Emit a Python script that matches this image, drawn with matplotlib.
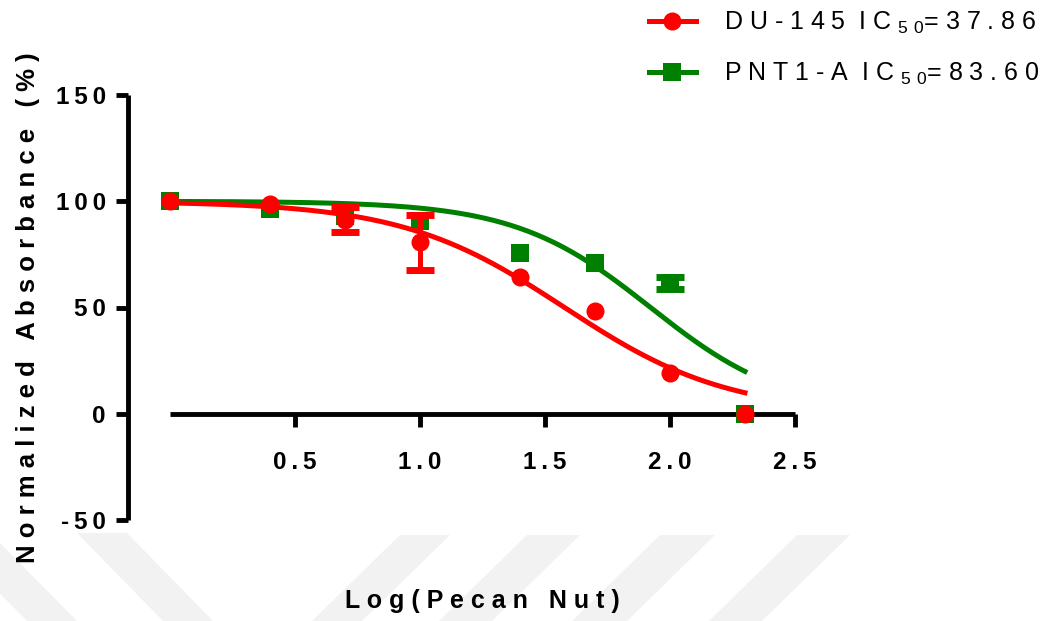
import numpy as np
import matplotlib.pyplot as plt
from matplotlib.lines import Line2D
from matplotlib.patches import Polygon

plt.rcParams['font.family'] = ['Liberation Sans', 'DejaVu Sans']
plt.rcParams['mathtext.fontset'] = 'custom'
plt.rcParams['mathtext.rm'] = 'Liberation Sans'

# log concentration of pecan nut extract
log_conc = [0.0, 0.4, 0.7, 1.0, 1.4, 1.7, 2.0, 2.3]

# DU-145 (mean, SD)
du145_mean = [100.0, 98.5, 91.3, 80.6, 64.5, 48.5, 19.0, 0.0]
du145_sd = [0.0, 0.0, 5.9, 12.9, 0.0, 0.0, 0.0, 0.0]
du145_ic50 = 37.86
du145_hill = 1.33

# PNT1-A (mean, SD)
pnt1a_mean = [100.0, 96.5, 93.2, 90.8, 75.7, 71.0, 61.6, 0.0]
pnt1a_sd = [0.0, 0.0, 0.0, 0.0, 0.0, 0.0, 2.8, 0.0]
pnt1a_ic50 = 83.60
pnt1a_hill = 1.60

y_ticks = [-50, 0, 50, 100, 150]
x_ticks = [0.5, 1.0, 1.5, 2.0, 2.5]


def spaced(s):
    return ' '.join(s)


def thin(s):
    return '\u2009'.join(s)


def dose_response(x, ic50, hill, top=100.0, bottom=0.0):
    return bottom + (top - bottom) / (1 + 10 ** ((x - np.log10(ic50)) * hill))


fig = plt.figure(figsize=(10.49, 6.21), dpi=100)

# faint striped background mark along the bottom edge
W, H = 1049.0, 621.0
stripes = [
    [(-60, 533), (-10, 533), (77, 621), (27, 621)],
    [(77, 533), (127, 533), (213, 621), (163, 621)],
    [(400, 535), (450, 535), (362, 621), (312, 621)],
    [(527, 535), (580, 535), (492, 621), (439, 621)],
    [(660, 535), (715, 535), (627, 621), (572, 621)],
    [(797, 535), (850, 535), (762, 621), (709, 621)],
]
for st in stripes:
    pts = [(px / W, 1 - py / H) for px, py in st]
    fig.patches.append(Polygon(pts, closed=True, transform=fig.transFigure,
                               facecolor='#f2f2f2', edgecolor='none',
                               zorder=-5))

ax = fig.add_axes([128 / W, 101 / H, 667 / W, 425 / H])
ax.set_zorder(2)
ax.patch.set_alpha(0)

xs = np.linspace(0, 2.3, 200)
x = np.array(log_conc)

series = [
    ('green', 's', pnt1a_mean, pnt1a_sd, pnt1a_ic50, pnt1a_hill, 13.5),
    ('red', 'o', du145_mean, du145_sd, du145_ic50, du145_hill, 13),
]
z = 3
for color, marker, mean, sd, ic50, hill, ms in series:
    mean = np.array(mean)
    sd = np.array(sd)
    ax.plot(xs, dose_response(xs, ic50, hill), color=color, lw=3.6,
            zorder=z, clip_on=False)
    has_err = sd > 0
    if has_err.any():
        ax.errorbar(x[has_err], mean[has_err], yerr=sd[has_err], fmt='none',
                    ecolor=color, elinewidth=3.6, capsize=10, capthick=5,
                    zorder=z + 1, clip_on=False)
    ax.plot(x, mean, linestyle='none', marker=marker, ms=ms, color=color,
            markeredgewidth=0, zorder=z + 2, clip_on=False)
    z += 3

ax.set_xlim(-0.168, 2.5)
ax.set_ylim(-50, 150)

for side in ['top', 'right']:
    ax.spines[side].set_visible(False)
ax.spines['bottom'].set_position(('data', 0))
ax.spines['bottom'].set_bounds(0, 2.5)
ax.spines['left'].set_bounds(-50, 150)
for side in ['bottom', 'left']:
    ax.spines[side].set_linewidth(3.5)
    ax.spines[side].set_capstyle('butt')

ax.set_yticks(y_ticks)
ax.set_yticklabels([thin(str(v)) for v in y_ticks])
ax.set_xticks(x_ticks)
ax.set_xticklabels([thin('%.1f' % v) for v in x_ticks])
ax.tick_params(axis='both', width=3.5, length=9, direction='out',
               labelsize=17.5)
ax.tick_params(axis='y', pad=7)
ax.tick_params(axis='x', pad=18)
for lab in ax.get_xticklabels() + ax.get_yticklabels():
    lab.set_fontweight('bold')

ax.set_ylabel(spaced('Normalized Absorbance (%)'), fontsize=18.5,
              fontweight='bold')
ax.yaxis.set_label_coords(-0.15, 0.5)
ax.yaxis.label.set(va='center', rotation_mode='default')
ax.set_xlabel(spaced('Log(Pecan Nut)'), fontsize=18, fontweight='bold')
ax.xaxis.set_label_coords(0.532, -0.19)
ax.xaxis.label.set(va='center')

handles = [
    Line2D([], [], color='red', marker='o', lw=3.6, ms=13, markeredgewidth=0),
    Line2D([], [], color='green', marker='s', lw=3.6, ms=13.5,
           markeredgewidth=0),
]
sub50 = r'$_{\mathrm{5\ 0}}$'
labels = [
    spaced('DU-145') + '  I C ' + sub50 + '= ' + spaced('%.2f' % du145_ic50),
    spaced('PNT1-A') + '  I C ' + sub50 + '= ' + spaced('%.2f' % pnt1a_ic50),
]
fig.legend(handles, labels, loc='upper right', bbox_to_anchor=(1049 / W, 1.0),
           frameon=False, fontsize=18, handlelength=1.9, handletextpad=1.1,
           labelspacing=1.0, borderaxespad=0.0)

fig.savefig('out.png', dpi=100)
